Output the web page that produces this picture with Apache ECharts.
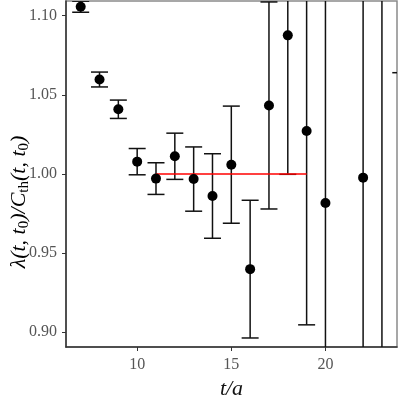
<!DOCTYPE html>
<html>
<head>
<meta charset="utf-8">
<script src="https://cdn.jsdelivr.net/npm/echarts@6/dist/echarts.min.js"></script>
<style>
  html, body { margin: 0; padding: 0; background: #fff; }
  #chart { width: 399px; height: 399px; }
</style>
</head>
<body>
<div id="chart"></div>
<script>
// data
const tValues = [7, 8, 9, 10, 11, 12, 13, 14, 15, 16, 17, 18, 19, 20, 22, 23, 24]
const ratio = [1.1057, 1.0597, 1.0409, 1.0078, 0.9971, 1.0112, 0.9968, 0.9861, 1.0059, 0.9399, 1.0433, 1.0876, 1.0272, 0.9817, 0.9977, 1.25, 0.85]
const ratioErr = [0.0035, 0.0047, 0.0058, 0.0083, 0.0100, 0.0146, 0.0203, 0.0267, 0.0370, 0.0435, 0.0654, 0.0878, 0.1225, 0.2000, 0.3000, 0.5000, 0.2140]
const fitRange = [11, 19]
const fitValue = 1.000
const xTicks = [10, 15, 20]
const yTicks = [0.90, 0.95, 1.00, 1.05, 1.10]

const chart = echarts.init(document.getElementById('chart'))

const points = tValues.map((t, i) => [t, ratio[i]])
const bars = tValues.map((t, i) => [t, ratio[i] - ratioErr[i], ratio[i] + ratioErr[i]])
const fitLine = fitRange.map(t => [t, fitValue])

const serif = 'Liberation Serif'

// error bars drawn from the axis coordinates
const renderErrorBar = (params, api) => {
  const lo = api.coord([api.value(0), api.value(1)])
  const hi = api.coord([api.value(0), api.value(2)])
  const w = 8.5
  const style = { stroke: '#111', lineWidth: 1.5 }
  return {
    type: 'group',
    children: [
      { type: 'line', shape: { x1: lo[0], y1: lo[1], x2: hi[0], y2: hi[1] }, style },
      { type: 'line', shape: { x1: lo[0] - w, y1: lo[1], x2: lo[0] + w, y2: lo[1] }, style },
      { type: 'line', shape: { x1: hi[0] - w, y1: hi[1], x2: hi[0] + w, y2: hi[1] }, style }
    ]
  }
}

chart.setOption({
  animation: false,
  grid: {
    left: 66, right: 2, top: 1, bottom: 52,
    outerBoundsMode: 'none',
    containLabel: false,
    show: true, borderColor: '#8a8a8a', borderWidth: 1.5, backgroundColor: 'transparent'
  },
  xAxis: {
    type: 'value',
    min: 6.22,
    max: 23.8,
    name: 't/a',
    nameLocation: 'middle',
    nameGap: 31,
    nameTextStyle: { fontFamily: serif, fontStyle: 'italic', fontSize: 22, color: '#111' },
    splitLine: { show: false },
    axisLine: { onZero: false, lineStyle: { color: '#333', width: 1.5 } },
    axisTick: { customValues: xTicks, length: 4, lineStyle: { color: '#333' } },
    axisLabel: {
      customValues: xTicks,
      margin: 10,
      fontFamily: serif, fontSize: 16, color: '#555'
    }
  },
  yAxis: {
    type: 'value',
    min: 0.8907,
    max: 1.1093,
    splitLine: { show: false },
    axisLine: { show: true, onZero: false, lineStyle: { color: '#333', width: 1.5 } },
    axisTick: { show: true, customValues: yTicks, length: 4, lineStyle: { color: '#333' } },
    axisLabel: {
      customValues: yTicks,
      margin: 9,
      formatter: v => v.toFixed(2),
      fontFamily: serif, fontSize: 16, color: '#555'
    }
  },
  graphic: [{
    type: 'text',
    x: 19,
    y: 202,
    rotation: Math.PI / 2,
    style: {
      text: '{m|λ(t, t}{s|0}{m|)/C}{s|th}{m|(t, t}{s|0}{m|)}',
      align: 'center',
      verticalAlign: 'middle',
      rich: {
        m: { fontFamily: serif, fontStyle: 'italic', fontSize: 22, color: '#111', lineHeight: 26, verticalAlign: 'middle' },
        s: { fontFamily: serif, fontSize: 15, color: '#111', lineHeight: 26, verticalAlign: 'bottom' }
      }
    }
  }],
  series: [
    {
      type: 'custom',
      clip: true,
      renderItem: renderErrorBar,
      encode: { x: 0, y: [1, 2] },
      data: bars,
      z: 2
    },
    {
      type: 'line',
      data: fitLine,
      symbol: 'none',
      lineStyle: { color: '#ff0000', width: 1.5 },
      z: 3
    },
    {
      type: 'scatter',
      data: points,
      symbolSize: 10,
      itemStyle: { color: '#000', opacity: 1 },
      clip: true,
      z: 4
    }
  ]
})
</script>
</body>
</html>
